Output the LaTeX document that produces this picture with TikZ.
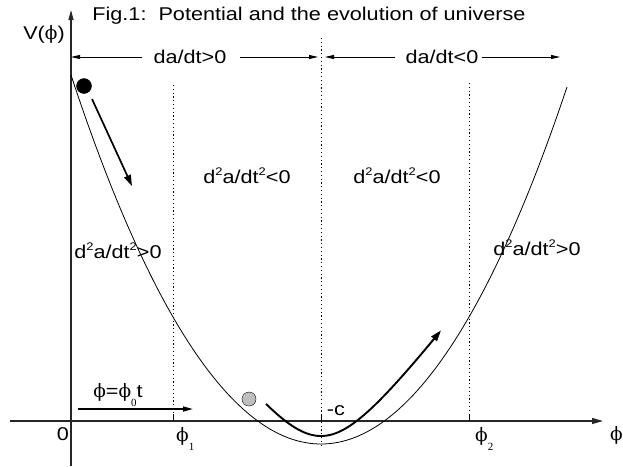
\documentclass[tikz,border=0pt]{standalone}
\usepackage{fontspec}
\setmainfont{Liberation Sans}[FakeStretch=1.17]
\newfontfamily\phifont{DejaVu Serif}
\newfontfamily\idxfont{Liberation Serif}
\usetikzlibrary{arrows.meta}

\newcommand{\ph}{{\phifont ϕ}}
\newcommand{\phidx}[1]{\ph\raisebox{-9pt}{\idxfont\fontsize{11}{12}\selectfont #1}}
\newcommand{\sqr}{\raisebox{8pt}{\fontsize{11}{12}\selectfont 2}}
\newcommand{\accel}[1]{d\sqr a/dt\sqr#1}

\begin{document}
\begin{tikzpicture}[
  x=1pt, y=-1pt,
  lbl/.style={font=\fontsize{18.5}{22}\selectfont, inner sep=0pt},
  axis/.style={line width=1.2pt, black!85},
  guide/.style={line width=1pt, dash pattern=on 1.2pt off 2.6pt},
  span/.style={line width=0.9pt, -{Triangle[length=9pt,width=4pt]}},
  push/.style={line width=1.7pt, -{Triangle[length=11pt,width=7pt]}},
  ball/.style={circle, draw, thin, minimum size=15pt, inner sep=0pt}
]
\useasboundingbox (0,0) rectangle (623,466);

% axes
\coordinate (O) at (71,421);
\coordinate (ybot) at (71,466);
\coordinate (ytop) at (71,10);
\coordinate (xleft) at (10,421);
\coordinate (xright) at (603,421);
\draw[axis, -{Triangle[length=10pt,width=5pt]}] (ybot) -- (ytop);
\draw[axis, -{Triangle[length=11pt,width=6pt]}] (xleft) -- (xright);

% guides at phi_1, -c, phi_2
\coordinate (g1) at (173,85);   \coordinate (g1b) at (173,421);
\coordinate (gc) at (321,38);   \coordinate (gcb) at (321,445);
\coordinate (g2) at (469,83);   \coordinate (g2b) at (469,421);
\draw[guide] (g1) -- (g1b);
\draw[guide] (gc) -- (gcb);
\draw[guide] (g2) -- (g2b);
\draw[line width=1pt] (173,414) -- (g1b);
\draw[line width=1pt] (321,415) -- (321,421);
\draw[line width=1pt] (469,414) -- (g2b);

% potential
\draw[line width=0.8pt] plot[domain=71:567, samples=120]
  ({\x}, {444-57.41*((\x-321)/100)^2-0.261*((\x-321)/100)^4});

% title and axis labels
\node[lbl, anchor=base] (title) at (309,20) {Fig.1:\ \ Potential and the evolution of universe};
\node[lbl, anchor=base] (vlab) at (44,39) {V(\ph)};
\node[lbl, anchor=base] (zero) at (63,440) {0};
\node[lbl, anchor=base west] (p1) at (176,441) {\phidx{1}};
\node[lbl, anchor=base west] (p2) at (475,441) {\phidx{2}};
\node[lbl, anchor=base west] (pax) at (610,440) {\ph};
\node[lbl, anchor=base] (mc) at (336,415) {-c};

% expansion spans
\coordinate (topL) at (71,57);
\coordinate (midL) at (318,57);
\coordinate (midR) at (325,57);
\coordinate (topR) at (560,57);
\node[lbl, anchor=base] (grow) at (190,63) {da/dt>0};
\node[lbl, anchor=base] (shrink) at (442,63) {da/dt<0};
\draw[span] ([xshift=-11pt]grow.west |- topL) -- (topL);
\draw[span] ([xshift=13pt]grow.east |- midL) -- (midL);
\draw[span] ([xshift=-10pt]shrink.west |- midR) -- (midR);
\draw[span] ([xshift=3pt]shrink.east |- topR) -- (topR);

% acceleration regions
\node[lbl, anchor=base] (accL) at (118,258) {\accel{>0}};
\node[lbl, anchor=base] (decL) at (247,183) {\accel{<0}};
\node[lbl, anchor=base] (decR) at (397,183) {\accel{<0}};
\node[lbl, anchor=base] (accR) at (537,255) {\accel{>0}};

% balls and motion
\node[ball, fill=black] (start) at (84,86) {};
\node[ball, fill=gray!50, minimum size=14pt] (low) at (249,399) {};
\coordinate (rollS) at (92,99);
\coordinate (rollE) at (132,186);
\draw[push] (rollS) -- (rollE);
\draw[push, line width=1.9pt] plot[domain=266:441, samples=80]
  ({\x}, {436-13.2*(sqrt(((\x-321)/10)^2+25)-5)});

% field evolution
\coordinate (fS) at (78,409);
\coordinate (fE) at (193,409);
\draw[line width=1.6pt, -{Triangle[length=10pt,width=5pt]}] (fS) -- (fE);
\node[lbl, anchor=base] (flab) at (118,397) {\ph=\phidx{0}t};
\end{tikzpicture}
\end{document}
